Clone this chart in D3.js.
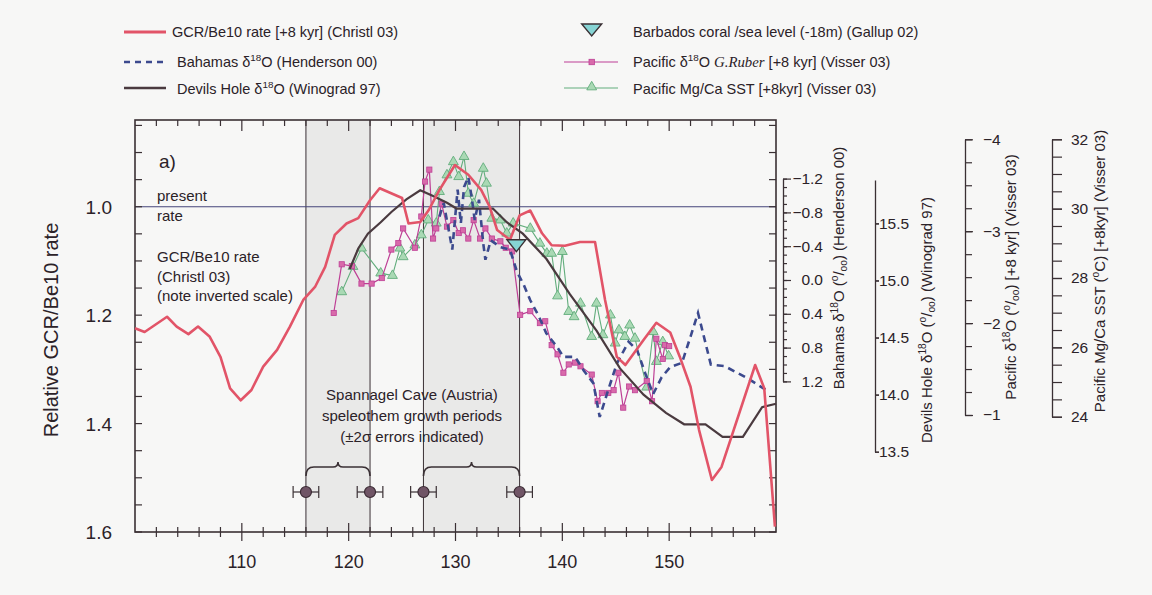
<!DOCTYPE html>
<html><head><meta charset="utf-8">
<script src="https://cdn.jsdelivr.net/npm/d3@7"></script>
<style>
body{margin:0;background:#f7f7f6}
text{font-family:Arial,"Liberation Sans",Helvetica,sans-serif;fill:#2b2228}
</style></head>
<body><svg id="c" width="1152" height="595"></svg>
<script>
// ---------------- DATA ----------------
const gcrAge  = [100,100.9,103.0,103.9,105.0,105.9,107.0,108.0,108.9,109.9,110.9,112.0,113.3,114.5,115.75,116.85,117.8,118.7,119.8,120.9,122.0,122.9,125.0,125.6,126.7,127.5,128.5,129.95,131.2,132.4,133.2,133.9,135.1,136.0,137.0,138.1,139.0,140.25,141.65,143.06,144.0,145.1,145.9,147.6,148.8,150.1,151.0,152.0,152.8,154.0,154.9,158.05,158.9,159.9];
const gcrRate = [1.224,1.231,1.203,1.221,1.235,1.221,1.240,1.277,1.335,1.357,1.338,1.295,1.264,1.221,1.172,1.148,1.111,1.052,1.031,1.021,0.988,0.966,0.984,1.031,1.028,1.006,0.969,0.923,0.941,0.969,1.000,1.043,1.061,1.016,1.007,1.049,1.071,1.072,1.065,1.065,1.172,1.277,1.292,1.246,1.214,1.232,1.277,1.332,1.412,1.504,1.480,1.292,1.335,1.59];

const devAge  = [120.1,120.9,121.8,123.0,124.0,125.4,126.7,127.9,129.2,130.1,131.7,133.5,134.8,136.3,138.5,140.7,143.2,145.4,147.6,149.7,151.4,153.4,155.0,156.9,158.7,160.0];
const devD18O = [15.10,15.28,15.41,15.51,15.60,15.71,15.79,15.74,15.68,15.63,15.63,15.63,15.51,15.41,15.19,14.88,14.56,14.23,14.00,13.84,13.74,13.74,13.63,13.63,13.89,13.92];

const bahAge  = [128.5,128.9,129.7,130.2,130.5,130.8,131.2,131.5,131.8,132.2,132.6,132.8,133.3,134.2,135.1,135.75,136.4,137.0,137.8,138.5,139.5,140.1,141.2,142.0,142.9,143.5,144.3,145.1,146.2,147.0,147.75,148.5,149.3,150.1,151.2,152.0,152.7,153.9,155.2,157.3,159.3];
const bahD18O = [-0.75,-0.91,-0.36,-1.07,-0.67,-1.10,-1.22,-0.99,-0.71,-0.95,-0.43,-0.24,-0.47,-0.39,-0.36,-0.10,0.06,0.24,0.43,0.63,0.79,0.91,0.91,1.07,1.22,1.62,1.30,0.99,0.73,0.83,1.10,1.35,1.15,1.03,0.98,0.67,0.39,1.00,1.02,1.16,1.32];

const pacAge  = [118.6,119.35,120.3,121.2,122.15,123.1,124.0,124.65,125.1,126.2,126.8,127.15,127.55,127.9,128.2,128.7,129.2,129.8,130.3,130.7,131.2,131.7,132.3,132.8,133.4,134.2,134.7,135.3,136.05,137.0,137.9,138.4,139.0,139.55,140.1,140.6,141.2,141.7,142.75,143.3,143.7,144.3,144.8,145.25,145.7,146.25,146.8,147.9,148.4,148.8,149.4,149.6,150.0];
const pacD18O = [-2.11,-2.64,-2.62,-2.43,-2.43,-2.49,-2.80,-2.87,-3.03,-2.82,-3.16,-3.54,-3.67,-2.92,-3.03,-3.30,-3.05,-3.12,-2.98,-3.01,-2.92,-3.12,-2.92,-3.03,-2.92,-2.89,-2.82,-2.78,-2.09,-2.13,-2.00,-2.02,-1.76,-1.66,-1.46,-1.55,-1.57,-1.53,-1.44,-1.15,-1.24,-1.24,-1.27,-1.46,-1.08,-1.31,-1.27,-1.37,-1.15,-1.83,-1.61,-1.76,-1.75];

const sstAge  = [119.35,120.4,121.2,123.0,124.1,124.8,125.1,126.2,126.8,127.45,128.2,128.5,129.2,129.8,130.3,130.8,131.2,131.7,132.6,132.9,133.4,134.2,134.8,135.4,137.0,137.9,138.55,139.0,139.55,140.0,140.6,141.1,141.7,142.75,143.2,143.8,144.5,144.95,145.3,145.85,146.3,146.8,147.9,148.5,148.8,149.4,149.95];
const sstVal  = [27.60,28.33,28.86,28.14,28.07,28.86,28.61,28.95,29.24,29.67,29.58,30.49,30.97,31.35,30.92,31.50,30.44,30.15,31.16,30.73,29.72,29.67,29.29,29.58,29.43,29.00,28.71,28.71,27.48,28.76,27.03,26.88,27.27,26.31,27.27,26.36,26.93,26.12,26.50,26.31,26.64,26.26,24.85,26.45,25.59,26.16,25.75];

const barbadosAge = [135.7];
const barbadosLevel = [1.072];   // plotted against the GCR scale

const spannagelDates = [116, 122, 127, 136];
const spannagelErr   = [1.2, 1.2, 1.2, 1.2];
const growthPeriods  = [[116,122],[127,136]];

const xTickLabels   = [110,120,130,140,150];
const gcrTickLabels = [1.0,1.2,1.4,1.6];
const bahTickLabels = [-1.2,-0.8,-0.4,0.0,0.4,0.8,1.2];
const devTickLabels = [13.5,14.0,14.5,15.0,15.5];
const pacTickLabels = [-4,-3,-2,-1];
const sstTickLabels = [24,26,28,30,32];

// ---------------- LAYOUT ----------------
const svg = d3.select("#c");
const L=135,R=776,T=120,B=532;
const ink="#3a3034";
const x = d3.scaleLinear().domain([100,160]).range([L,R]);
const yG = d3.scaleLinear().domain([0.84,1.6]).range([T,B]);
const yBah = d3.scaleLinear().domain([-1.2,1.2]).range([178.6,381.4]);
const yDev = d3.scaleLinear().domain([13.5,15.88]).range([451.7,180]);
const yPac = d3.scaleLinear().domain([-4,-1]).range([139.3,415]);
const ySst = d3.scaleLinear().domain([24,32]).range([416.7,139.3]);

const col = {gcr:"#e25468", bah:"#3c4a8e", dev:"#4a3a3f", pac:"#be3f95", pacFill:"#d86aaa", sst:"#62ad7c", sstFill:"#a9d9b4", barb:"#86d4d4"};

function rich(sel, parts, size){
  let shift=0;
  parts.forEach(([s,k])=>{
    let target = k==="sup" ? -size*0.42 : (k==="sub" ? size*0.2 : 0);
    const t = sel.append("tspan").text(s).attr("dy", target-shift);
    shift = target;
    if(k==="sup"||k==="sub") t.attr("font-size", size*0.68);
    if(k==="it") t.attr("font-family","'Liberation Serif','Times New Roman',serif").attr("font-style","italic").attr("font-size",size*1.02);
  });
  if(shift!==0) sel.append("tspan").text("").attr("dy",-shift);
}

svg.selectAll("rect.period").data(growthPeriods).enter().append("rect")
  .attr("x",d=>x(d[0])).attr("width",d=>x(d[1])-x(d[0]))
  .attr("y",T).attr("height",B-T).attr("fill","#e9e9e8");

svg.selectAll("line.vd").data(spannagelDates).enter().append("line")
  .attr("x1",d=>x(d)).attr("x2",d=>x(d)).attr("y1",T).attr("y2",B)
  .attr("stroke",ink).attr("stroke-width",1);

svg.append("line").attr("x1",L).attr("x2",R).attr("y1",yG(1.0)).attr("y2",yG(1.0))
  .attr("stroke","#44457a").attr("stroke-width",1.2);

svg.append("rect").attr("x",L).attr("y",T).attr("width",R-L).attr("height",B-T)
  .attr("fill","none").attr("stroke",ink).attr("stroke-width",1.6);

const xMinor = d3.range(102,160,2);
xMinor.forEach(v=>{
  const major = v%10===0;
  svg.append("line").attr("x1",x(v)).attr("x2",x(v)).attr("y1",B-(major?9:5)).attr("y2",B+(major?9:5)).attr("stroke",ink).attr("stroke-width",1.2);
  svg.append("line").attr("x1",x(v)).attr("x2",x(v)).attr("y1",T).attr("y2",T+(major?11:6)).attr("stroke",ink).attr("stroke-width",1.2);
});
svg.selectAll("text.xl").data(xTickLabels).enter().append("text")
  .attr("x",d=>x(d)).attr("y",568).attr("text-anchor","middle").attr("font-size",18).text(d=>d);

d3.range(0.85,1.6001,0.05).forEach(v=>{
  svg.append("line").attr("x1",L).attr("x2",L+7).attr("y1",yG(v)).attr("y2",yG(v)).attr("stroke",ink).attr("stroke-width",1.2);
  svg.append("line").attr("x1",R-7).attr("x2",R).attr("y1",yG(v)).attr("y2",yG(v)).attr("stroke",ink).attr("stroke-width",1.2);
});
svg.selectAll("text.yl").data(gcrTickLabels).enter().append("text")
  .attr("x",112).attr("y",d=>yG(d)+7).attr("text-anchor","end").attr("font-size",19).text(d=>d3.format(".1f")(d));
svg.append("text").attr("transform","translate(58,330) rotate(-90)").attr("text-anchor","middle")
  .attr("font-size",20).text("Relative GCR/Be10 rate");

// ---------- right axes ----------
function rightAxis(scale, xpos, majors, minors, majSize, minSize, fmt, labelX, anchor){
  const g = svg.append("g").attr("transform",`translate(${xpos},0)`);
  g.call(d3.axisRight(scale).tickValues(minors).tickSize(minSize).tickSizeOuter(0).tickFormat(""));
  g.selectAll("path,line").attr("stroke",ink);
  g.select(".domain").attr("stroke-width",1.3);
  g.selectAll("line").attr("stroke-width",1.2);
  const g2 = svg.append("g").attr("transform",`translate(${xpos},0)`);
  g2.call(d3.axisRight(scale).tickValues(majors).tickSize(majSize).tickSizeOuter(0).tickFormat(fmt));
  g2.select(".domain").remove();
  g2.selectAll("line").attr("stroke",ink).attr("stroke-width",1.2);
  g2.selectAll("text").attr("x",labelX).attr("text-anchor",anchor).attr("font-size",15.5)
    .attr("font-family","Arial,'Liberation Sans',sans-serif").attr("fill","#2b2228");
  return g2;
}
rightAxis(yBah, 783, bahTickLabels, d3.range(-12,13,1).map(d=>d/10), 8, 4, d=>d3.format(".1f")(d), 40, "end");
rightAxis(yDev, 875, devTickLabels, devTickLabels, 4, 4, d=>d3.format(".1f")(d), 4, "start");
rightAxis(yPac, 965, pacTickLabels, d3.range(-16,-3,1).map(d=>d/4), 8, 7, d=>d3.format("d")(d), 18, "start");
rightAxis(ySst, 1052, sstTickLabels, d3.range(48,65,1).map(d=>d/2), 10, 10, d=>d, 19, "start");

function rotTitle(cx, cy, parts){
  const t = svg.append("text").attr("transform",`translate(${cx},${cy}) rotate(-90)`).attr("text-anchor","middle").attr("font-size",15).attr("dy","0.35em");
  rich(t, parts, 15);
}
rotTitle(844, 268, [["Bahamas δ","n"],["18","sup"],["O (","n"],["o","sup"],["/","n"],["oo","sub"],[") (Henderson 00)","n"]]);
rotTitle(932, 320, [["Devils Hole δ","n"],["18","sup"],["O (","n"],["o","sup"],["/","n"],["oo","sub"],[") (Winograd 97)","n"]]);
rotTitle(1016, 277, [["Pacific δ","n"],["18","sup"],["O (","n"],["o","sup"],["/","n"],["oo","sub"],[") [+8 kyr] (Visser 03)","n"]]);
rotTitle(1105, 271, [["Pacific Mg/Ca SST (","n"],["o","sup"],["C) [+8kyr] (Visser 03)","n"]]);

// ---------- series ----------
const plot = svg.append("g");
const line = (xs, ys, ysc)=> d3.line().x((d,i)=>x(xs[i])).y((d,i)=>ysc(ys[i]))(xs);

plot.append("path").attr("d",line(sstAge,sstVal,ySst)).attr("fill","none").attr("stroke",col.sst).attr("stroke-width",1.1);
const tri = d3.symbol().type(d3.symbolTriangle).size(42);
plot.selectAll("path.sst").data(sstAge).enter().append("path")
  .attr("transform",(d,i)=>`translate(${x(d)},${ySst(sstVal[i])})`).attr("d",tri)
  .attr("fill",col.sstFill).attr("stroke",col.sst).attr("stroke-width",0.9);

plot.append("path").attr("d",line(pacAge,pacD18O,yPac)).attr("fill","none").attr("stroke",col.pac).attr("stroke-width",1.2);
plot.selectAll("rect.pac").data(pacAge).enter().append("rect")
  .attr("x",d=>x(d)-2.6).attr("y",(d,i)=>yPac(pacD18O[i])-2.6).attr("width",5.2).attr("height",5.2)
  .attr("fill",col.pacFill).attr("stroke",col.pac).attr("stroke-width",0.8);

plot.append("path").attr("d",line(bahAge,bahD18O,yBah)).attr("fill","none").attr("stroke",col.bah)
  .attr("stroke-width",2.6).attr("stroke-dasharray","7,5");

plot.append("path").attr("d",line(devAge,devD18O,yDev)).attr("fill","none").attr("stroke",col.dev).attr("stroke-width",2.2);

plot.append("path").attr("d",line(gcrAge,gcrRate,yG)).attr("fill","none").attr("stroke",col.gcr).attr("stroke-width",2.6).attr("stroke-linejoin","round");

const downTri = (cx,cy,w,h)=>`M${cx-w/2},${cy-h/2}L${cx+w/2},${cy-h/2}L${cx},${cy+h/2}Z`;
plot.selectAll("path.barb").data(barbadosAge).enter().append("path")
  .attr("d",(d,i)=>downTri(x(d),yG(barbadosLevel[i]),19,12)).attr("fill",col.barb).attr("stroke",ink).attr("stroke-width",1.3);

// ---------- Spannagel growth periods ----------
const yDots = 492;
svg.selectAll("g.eb").data(spannagelDates).enter().append("g").each(function(d,i){
  const g=d3.select(this);
  const x0=x(d-spannagelErr[i]), x1=x(d+spannagelErr[i]);
  g.append("line").attr("x1",x0).attr("x2",x1).attr("y1",yDots).attr("y2",yDots).attr("stroke",ink).attr("stroke-width",1.2);
  [x0,x1].forEach(xx=>g.append("line").attr("x1",xx).attr("x2",xx).attr("y1",yDots-6).attr("y2",yDots+6).attr("stroke",ink).attr("stroke-width",1.2));
  g.append("circle").attr("cx",x(d)).attr("cy",yDots).attr("r",5.5).attr("fill","#705566").attr("stroke","#3a2a33").attr("stroke-width",1.2);
});
growthPeriods.forEach(p=>{
  const a=x(p[0]), b=x(p[1]), m=(a+b)/2, yb=467;
  const d=`M${a},${yb+9} Q${a},${yb} ${a+8},${yb} L${m-5},${yb} Q${m},${yb} ${m},${yb-5} Q${m},${yb} ${m+5},${yb} L${b-8},${yb} Q${b},${yb} ${b},${yb+9}`;
  svg.append("path").attr("d",d).attr("fill","none").attr("stroke",ink).attr("stroke-width",1.6);
});
[["Spannagel Cave (Austria)",400],["speleothem growth periods",421],["(±2σ errors indicated)",442]].forEach(([s,yy])=>{
  svg.append("text").attr("x",412).attr("y",yy).attr("text-anchor","middle").attr("font-size",15).text(s);
});

// ---------- annotations ----------
svg.append("text").attr("x",159).attr("y",168).attr("font-size",19).text("a)");
[["present",201],["rate",221]].forEach(([s,yy])=>svg.append("text").attr("x",157).attr("y",yy).attr("font-size",15).text(s));
[["GCR/Be10 rate",262],["(Christl 03)",282],["(note inverted scale)",301]].forEach(([s,yy])=>svg.append("text").attr("x",157).attr("y",yy).attr("font-size",15).text(s));

// ---------- legend ----------
const lg = svg.append("g");
lg.append("line").attr("x1",124).attr("x2",166).attr("y1",32).attr("y2",32).attr("stroke",col.gcr).attr("stroke-width",3);
lg.append("line").attr("x1",124).attr("x2",166).attr("y1",62).attr("y2",62).attr("stroke",col.bah).attr("stroke-width",2.4).attr("stroke-dasharray","6,5");
lg.append("line").attr("x1",124).attr("x2",166).attr("y1",88).attr("y2",88).attr("stroke",col.dev).attr("stroke-width",2.4);
const lt = (xx,yy,parts)=>{const t=lg.append("text").attr("x",xx).attr("y",yy).attr("font-size",14.5); rich(t,parts,14.5);};
lt(172,37,[["GCR/Be10 rate [+8 kyr] (Christl 03)","n"]]);
lt(177,67,[["Bahamas δ","n"],["18","sup"],["O (Henderson 00)","n"]]);
lt(177,94,[["Devils Hole δ","n"],["18","sup"],["O (Winograd 97)","n"]]);

lg.append("path").attr("d",downTri(591.7,30,20,12)).attr("fill",col.barb).attr("stroke",ink).attr("stroke-width",1.4);
lg.append("line").attr("x1",564).attr("x2",618).attr("y1",62).attr("y2",62).attr("stroke",col.pac).attr("stroke-width",1.2);
lg.append("rect").attr("x",589).attr("y",59.3).attr("width",5.4).attr("height",5.4).attr("fill",col.pacFill).attr("stroke",col.pac).attr("stroke-width",0.8);
lg.append("line").attr("x1",564).attr("x2",618).attr("y1",88).attr("y2",88).attr("stroke",col.sst).attr("stroke-width",1.1);
lg.append("path").attr("transform","translate(591.7,87)").attr("d",tri).attr("fill",col.sstFill).attr("stroke",col.sst).attr("stroke-width",0.9);
lt(633,37,[["Barbados coral /sea level (-18m) (Gallup 02)","n"]]);
lt(633,67,[["Pacific δ","n"],["18","sup"],["O  ","n"],["G.Ruber","it"],[" [+8 kyr] (Visser 03)","n"]]);
lt(633,94,[["Pacific Mg/Ca SST [+8kyr] (Visser 03)","n"]]);
</script></body></html>
